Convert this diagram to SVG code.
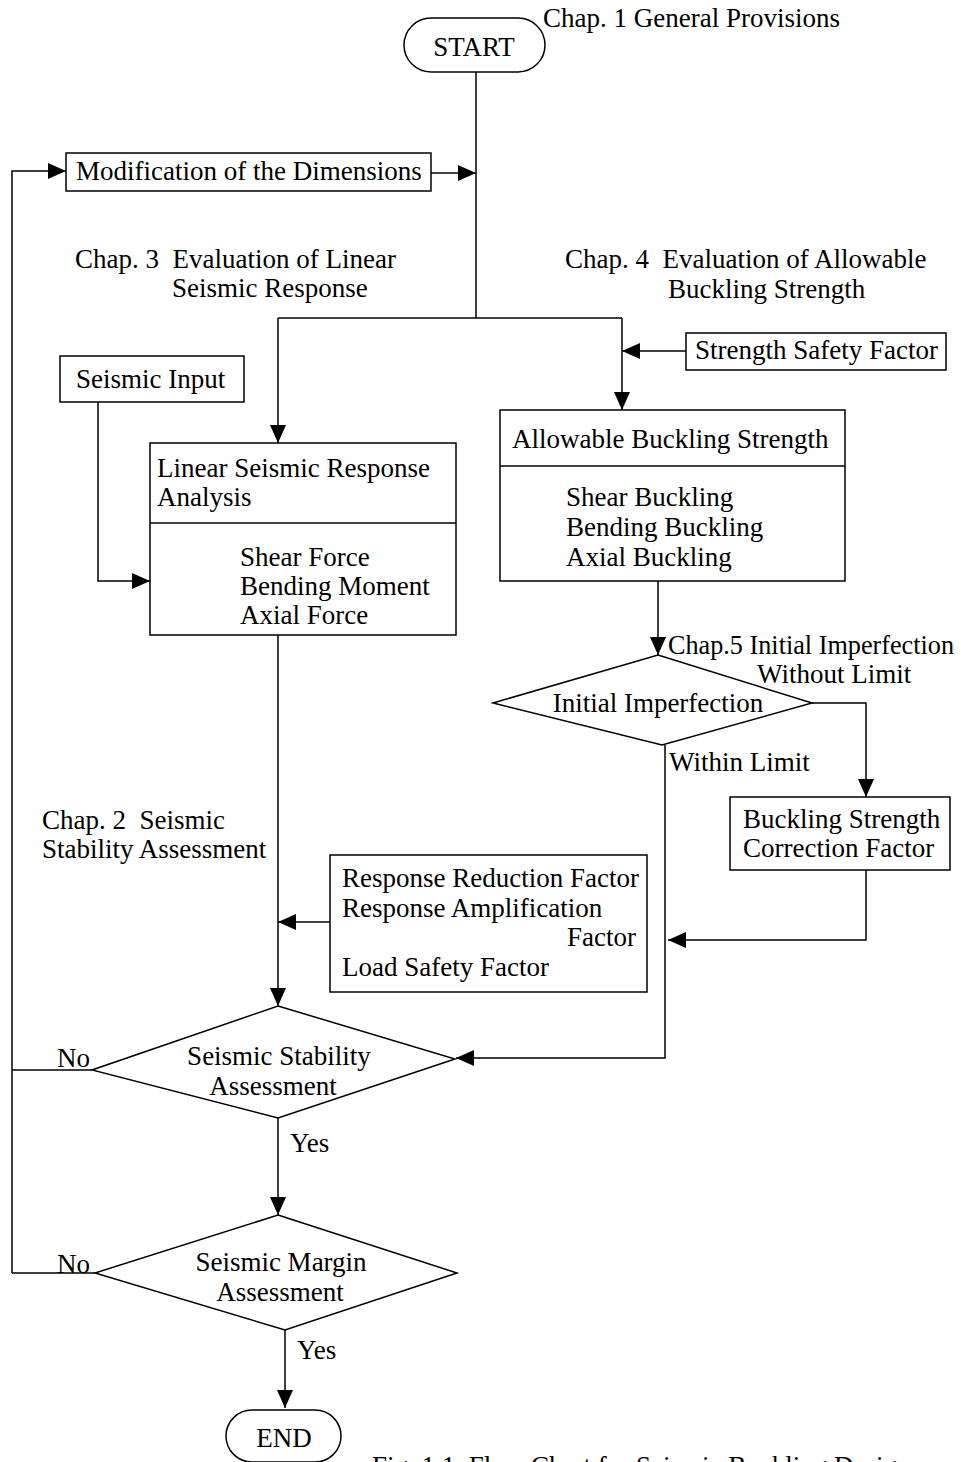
<svg xmlns="http://www.w3.org/2000/svg" width="961" height="1462" viewBox="0 0 961 1462">
<style>
text{font-family:"Liberation Serif","Times New Roman",serif;font-size:27px;fill:#000}
.c{text-anchor:middle}
.r{text-anchor:end}
.box{fill:#fff;stroke:#000;stroke-width:1.5}
.ln{fill:none;stroke:#000;stroke-width:1.5}
</style>
<defs>
<marker id="ah" markerUnits="userSpaceOnUse" markerWidth="20" markerHeight="16" refX="18" refY="8" orient="auto">
<path d="M0,0 L18,8 L0,16 Z" fill="#000"/>
</marker>
</defs>
<rect width="961" height="1462" fill="#fff"/>
<g id="connectors">
<path class="ln" d="M476,72 V318" />
<path class="ln" d="M431,173 H476" marker-end="url(#ah)"/>
<path class="ln" d="M12,1273 V171 H66" marker-end="url(#ah)"/>
<path class="ln" d="M278,318 H622"/>
<path class="ln" d="M278,318 V443" marker-end="url(#ah)"/>
<path class="ln" d="M622,318 V410" marker-end="url(#ah)"/>
<path class="ln" d="M686,351 H622" marker-end="url(#ah)"/>
<path class="ln" d="M98,402 V581 H150" marker-end="url(#ah)"/>
<path class="ln" d="M658,581 V655" marker-end="url(#ah)"/>
<path class="ln" d="M812,703 H866 V797" marker-end="url(#ah)"/>
<path class="ln" d="M866,870 V940 H668" marker-end="url(#ah)"/>
<path class="ln" d="M665,745 V1058 H456" marker-end="url(#ah)"/>
<path class="ln" d="M330,922 H278" marker-end="url(#ah)"/>
<path class="ln" d="M278,635 V1006" marker-end="url(#ah)"/>
<path class="ln" d="M92,1070 H12"/>
<path class="ln" d="M278,1118 V1215" marker-end="url(#ah)"/>
<path class="ln" d="M95,1273 H12"/>
<path class="ln" d="M285,1330 V1408" marker-end="url(#ah)"/>
</g>
<g id="start">
<rect class="box" x="404" y="18" width="141" height="54" rx="27"/>
<text class="c" x="474" y="56">START</text>
</g>
<text x="543" y="27">Chap. 1 General Provisions</text>
<g id="modification">
<rect class="box" x="66" y="153" width="365" height="38"/>
<text x="76" y="180">Modification of the Dimensions</text>
</g>
<text x="75" y="268">Chap. 3&#160; Evaluation of Linear</text>
<text x="172" y="297">Seismic Response</text>
<text x="565" y="268">Chap. 4&#160; Evaluation of Allowable</text>
<text x="668" y="298">Buckling Strength</text>
<g id="strength-safety">
<rect class="box" x="686" y="333" width="260" height="37"/>
<text x="695" y="359">Strength Safety Factor</text>
</g>
<g id="seismic-input">
<rect class="box" x="60" y="356" width="184" height="46"/>
<text x="76" y="388">Seismic Input</text>
</g>
<g id="linear-analysis">
<rect class="box" x="150" y="443" width="306" height="192"/>
<path class="ln" d="M150,523 H456"/>
<text x="157" y="477">Linear Seismic Response</text>
<text x="157" y="506">Analysis</text>
<text x="240" y="566">Shear Force</text>
<text x="240" y="595">Bending Moment</text>
<text x="240" y="624">Axial Force</text>
</g>
<g id="allowable">
<rect class="box" x="500" y="410" width="345" height="171"/>
<path class="ln" d="M500,466 H845"/>
<text x="512" y="448">Allowable Buckling Strength</text>
<text x="566" y="506">Shear Buckling</text>
<text x="566" y="536">Bending Buckling</text>
<text x="566" y="566">Axial Buckling</text>
</g>
<g id="initial-imperfection">
<path class="box" d="M658,655 L812,703 L662,745 L493,703 Z"/>
<text class="c" x="658" y="712">Initial Imperfection</text>
</g>
<text x="668" y="654" textLength="286" lengthAdjust="spacingAndGlyphs">Chap.5 Initial Imperfection</text>
<text x="757" y="683">Without Limit</text>
<text x="669" y="771">Within Limit</text>
<g id="correction">
<rect class="box" x="730" y="797" width="220" height="73"/>
<text x="743" y="828">Buckling Strength</text>
<text x="743" y="857">Correction Factor</text>
</g>
<text x="42" y="829">Chap. 2&#160; Seismic</text>
<text x="42" y="858">Stability Assessment</text>
<g id="factors">
<rect class="box" x="330" y="855" width="317" height="137"/>
<text x="342" y="887">Response Reduction Factor</text>
<text x="342" y="917">Response Amplification</text>
<text class="r" x="636" y="946">Factor</text>
<text x="342" y="976">Load Safety Factor</text>
</g>
<g id="stability">
<path class="box" d="M278,1006 L455,1059 L278,1118 L92,1070 Z"/>
<text class="c" x="279" y="1065">Seismic Stability</text>
<text class="c" x="273" y="1095">Assessment</text>
</g>
<text x="57" y="1067">No</text>
<text x="290" y="1152">Yes</text>
<g id="margin">
<path class="box" d="M278,1215 L457,1273 L285,1330 L95,1273 Z"/>
<text class="c" x="281" y="1271">Seismic Margin</text>
<text class="c" x="280" y="1301">Assessment</text>
</g>
<text x="57" y="1273">No</text>
<text x="297" y="1359">Yes</text>
<g id="end">
<rect class="box" x="226" y="1410" width="115" height="52" rx="26"/>
<text class="c" x="284" y="1447">END</text>
</g>
<text x="372" y="1475">Fig. 1.1&#160; Flow Chart for Seismic Buckling Design</text>
</svg>
